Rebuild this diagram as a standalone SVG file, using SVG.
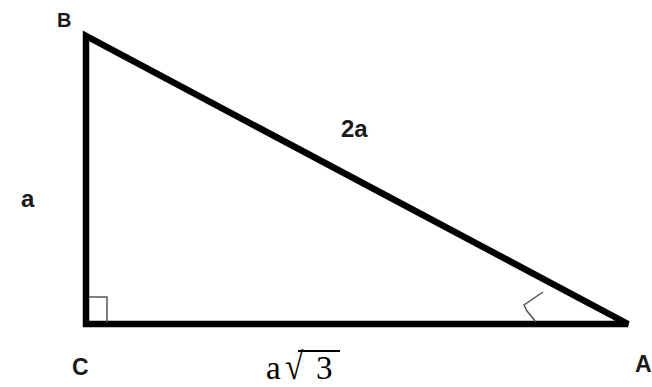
<svg xmlns="http://www.w3.org/2000/svg" width="652" height="387" viewBox="0 0 652 387">
<style>
.lbl{font-family:"Liberation Sans",Arial,sans-serif;font-weight:bold;fill:#1a1a1a}
.thin{fill:none;stroke:#555;stroke-width:1.5}
.ser{font-family:"Liberation Serif","Times New Roman",serif;font-size:33px;fill:#000}
</style>
<rect width="652" height="387" fill="#fff"/>
<g id="connectors">
<polygon points="86,36 86,324 628,324" fill="none" stroke="#000" stroke-width="6.5" stroke-linejoin="miter"/>
</g>
<g id="right-angle"><polyline class="thin" points="89,297 107,297 107,322"/></g>
<g id="angle-A"><polyline class="thin" points="543,292 524,305 527,311 536,322"/></g>
<g id="B"><text class="lbl" x="57" y="27" font-size="20">B</text></g>
<g id="C"><text class="lbl" x="72" y="375" font-size="23">C</text></g>
<g id="A"><text class="lbl" x="635" y="372" font-size="23">A</text></g>
<g id="side-BA"><text class="lbl" x="341" y="137" font-size="24">2a</text></g>
<g id="side-BC"><text class="lbl" x="21" y="207" font-size="24">a</text></g>
<g id="side-CA">
<text class="ser" x="266" y="379">a</text>
<text class="ser" transform="translate(285,379) scale(1,1.15)" x="0" y="0">√</text>
<text class="ser" x="316" y="379">3</text>
<rect x="298" y="350" width="42" height="2" fill="#000"/>
</g>
</svg>
